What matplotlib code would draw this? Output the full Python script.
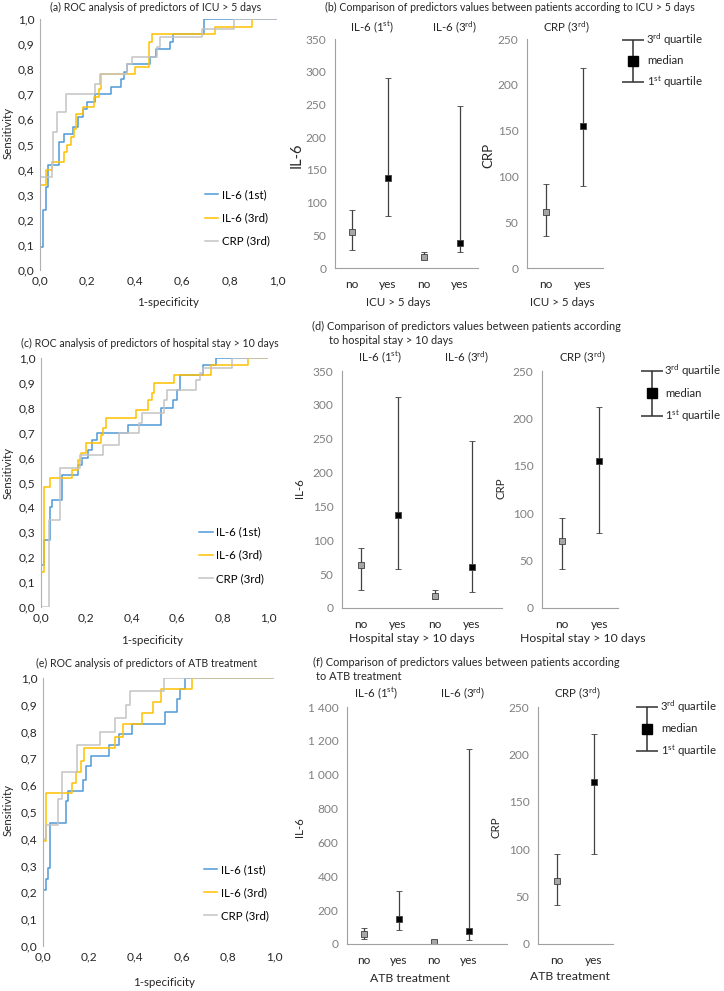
import matplotlib
matplotlib.use("Agg")
import matplotlib.pyplot as plt
from matplotlib.ticker import FuncFormatter

plt.rcParams['font.family'] = ['Lato', 'DejaVu Sans']
plt.rcParams['mathtext.fontset'] = 'custom'
plt.rcParams['mathtext.rm'] = 'Lato'
plt.rcParams['mathtext.it'] = 'Lato:italic'

W, H = 724, 991
BLUE, GOLD, GREY = '#4f9ad6', '#ffc000', '#c3c3c3'
TXT = '#262626'
TICK = '#808080'
FS = 7.6      # titles
LFS = 8.3     # axis labels, subtitles
TFS = 8.6     # tick labels

# ROC curves (fpr, tpr) per panel, step points
roc_a = {
    'IL-6 (1st)': ([0, 0.014, 0.024, 0.035, 0.08, 0.1, 0.14, 0.16, 0.18, 0.2, 0.23, 0.3, 0.34, 0.355, 0.365, 0.465, 0.49, 0.55, 0.56, 0.69, 1.0],
                   [0.09, 0.24, 0.33, 0.42, 0.51, 0.54, 0.57, 0.61, 0.64, 0.67, 0.70, 0.73, 0.76, 0.79, 0.82, 0.85, 0.88, 0.91, 0.94, 1.0, 1.0]),
    'IL-6 (3rd)': ([0, 0.024, 0.05, 0.1, 0.115, 0.13, 0.145, 0.152, 0.18, 0.228, 0.25, 0.256, 0.4, 0.458, 0.472, 0.74, 0.895],
                   [0.34, 0.40, 0.43, 0.47, 0.50, 0.53, 0.56, 0.62, 0.65, 0.69, 0.72, 0.78, 0.81, 0.91, 0.94, 0.97, 1.0]),
    'CRP (3rd)': ([0, 0, 0.05, 0.055, 0.073, 0.11, 0.233, 0.253, 0.366, 0.39, 0.493, 0.507, 0.683, 0.817, 1.0],
                  [0, 0.37, 0.42, 0.55, 0.63, 0.70, 0.74, 0.78, 0.82, 0.85, 0.89, 0.93, 0.96, 1.0, 1.0]),
}
roc_c = {
    'IL-6 (1st)': ([0, 0.012, 0.038, 0.048, 0.092, 0.163, 0.18, 0.205, 0.224, 0.246, 0.385, 0.529, 0.583, 0.598, 0.605, 0.612, 0.712, 0.773, 1.0],
                   [0.17, 0.27, 0.40, 0.43, 0.53, 0.57, 0.60, 0.63, 0.67, 0.70, 0.73, 0.80, 0.83, 0.87, 0.87, 0.93, 0.97, 1.0, 1.0]),
    'IL-6 (3rd)': ([0, 0, 0.012, 0.038, 0.136, 0.163, 0.176, 0.2, 0.264, 0.272, 0.287, 0.42, 0.473, 0.488, 0.498, 0.586, 0.75, 0.91, 1.0],
                   [0, 0.14, 0.48, 0.52, 0.55, 0.59, 0.62, 0.66, 0.69, 0.72, 0.76, 0.79, 0.83, 0.86, 0.90, 0.93, 0.97, 1.0, 1.0]),
    'CRP (3rd)': ([0, 0.034, 0.085, 0.173, 0.275, 0.344, 0.43, 0.447, 0.54, 0.553, 0.685, 0.70, 0.715, 0.84, 1.0],
                  [0, 0.35, 0.56, 0.61, 0.65, 0.70, 0.74, 0.78, 0.83, 0.87, 0.91, 0.94, 0.96, 1.0, 1.0]),
}
roc_e = {
    'IL-6 (1st)': ([0, 0.012, 0.023, 0.032, 0.1, 0.108, 0.173, 0.188, 0.207, 0.286, 0.33, 0.387, 0.527, 0.578, 0.592, 0.614, 1.0],
                   [0.21, 0.25, 0.29, 0.46, 0.54, 0.58, 0.62, 0.67, 0.71, 0.75, 0.79, 0.83, 0.875, 0.92, 0.96, 1.0, 1.0]),
    'IL-6 (3rd)': ([0, 0.012, 0.127, 0.142, 0.166, 0.176, 0.31, 0.347, 0.43, 0.477, 0.51, 0.643, 1.0],
                   [0.39, 0.57, 0.61, 0.65, 0.69, 0.74, 0.78, 0.83, 0.87, 0.91, 0.96, 1.0, 1.0]),
    'CRP (3rd)': ([0, 0, 0.012, 0.065, 0.082, 0.147, 0.246, 0.31, 0.361, 0.378, 0.523, 1.0],
                  [0, 0.40, 0.45, 0.55, 0.65, 0.75, 0.80, 0.85, 0.90, 0.95, 1.0, 1.0]),
}
roc_colors = [BLUE, GOLD, GREY]

# median, Q1, Q3 for groups: IL-6 1st no/yes, IL-6 3rd no/yes ; CRP no/yes
groups = ['no', 'yes', 'no', 'yes']
il6_b = dict(med=[55, 138, 17, 38], q1=[27, 80, 14, 25], q3=[88, 290, 25, 247])
crp_b = dict(med=[61, 155], q1=[35, 89], q3=[92, 218])
il6_d = dict(med=[64, 138, 17, 60], q1=[27, 57, 13, 24], q3=[88, 312, 26, 247])
crp_d = dict(med=[71, 155], q1=[41, 79], q3=[95, 212])
il6_f = dict(med=[61, 148, 12, 79], q1=[28, 83, 6, 24], q3=[96, 311, 25, 1154])
crp_f = dict(med=[66, 171], q1=[41.5, 94.6], q3=[94.6, 222])

fig = plt.figure(figsize=(W / 100, H / 100), dpi=100)


def px_axes(x0, y0, x1, y1):
    return fig.add_axes([x0 / W, 1 - y1 / H, (x1 - x0) / W, (y1 - y0) / H])


def ftext(x, y, s, **kw):
    kw.setdefault('fontsize', LFS)
    kw.setdefault('color', TXT)
    fig.text(x / W, 1 - y / H, s, va='center', **kw)


comma = FuncFormatter(lambda v, p: f"{v:.1f}".replace('.', ','))


def roc_panel(box, data, leg_anchor):
    ax = px_axes(*box)
    for (name, (fp, tp)), c in zip(data.items(), roc_colors):
        ax.step(fp, tp, where='post', color=c, lw=1.1, label=name)
    ax.set_xlim(0, 1)
    ax.set_ylim(0, 1)
    ax.set_xticks([i / 5 for i in range(6)])
    ax.set_yticks([i / 10 for i in range(11)])
    ax.xaxis.set_major_formatter(comma)
    ax.yaxis.set_major_formatter(comma)
    for s in ['top', 'right', 'bottom']:
        ax.spines[s].set_visible(False)
    ax.spines['left'].set_color('#b0b0b0')
    ax.tick_params(length=0, labelsize=TFS, colors=TXT, pad=4)
    ax.legend(loc='lower left', bbox_to_anchor=leg_anchor, frameon=False,
              fontsize=LFS, handlelength=1.2, handletextpad=0.3, labelspacing=1.05,
              borderpad=0)
    return ax


def err_panel(box, xlim, ylim, ticks, d, fmt=None):
    ax = px_axes(*box)
    n = len(d['med'])
    for i in range(n):
        m = d['med'][i]
        fc = '#a6a6a6' if i % 2 == 0 else 'black'
        ax.errorbar([i], [m], yerr=[[m - d['q1'][i]], [d['q3'][i] - m]],
                    fmt='s', ms=5, mfc=fc, mec='#404040', mew=0.6,
                    ecolor='#404040', elinewidth=0.9, capsize=2.5, capthick=1.2)
    ax.set_xlim(*xlim)
    ax.set_ylim(*ylim)
    ax.set_yticks(ticks)
    ax.set_xticks(range(n))
    ax.set_xticklabels(groups[:n])
    if fmt:
        ax.yaxis.set_major_formatter(fmt)
    for s in ['top', 'right']:
        ax.spines[s].set_visible(False)
    for s in ['left', 'bottom']:
        ax.spines[s].set_color('#a0a0a0')
    ax.tick_params(length=0, labelsize=TFS, pad=8)
    ax.tick_params(axis='y', colors=TICK, pad=6)
    ax.tick_params(axis='x', colors=TXT)
    return ax


def key(x, y0, y1, tx):
    ax = px_axes(x - 12, y0 - 4, x + 12, y1 + 4)
    ax.set_xlim(0, 1)
    ax.set_ylim(-4 / (y1 - y0), 1 + 4 / (y1 - y0))
    ax.axis('off')
    ax.errorbar([0.5], [0.5], yerr=[[0.5], [0.5]], fmt='s', ms=7, mfc='black',
                mec='black', ecolor='#303030', elinewidth=1.1, capsize=8, capthick=1.1)
    ftext(tx, y0, r'3$^{\mathrm{rd}}$ quartile', fontsize=8.2)
    ftext(tx + 1, (y0 + y1) / 2, 'median', fontsize=8.2)
    ftext(tx + 1, y1, r'1$^{\mathrm{st}}$ quartile', fontsize=8.2)


sup1 = r'IL-6 (1$^{\mathrm{st}}$)'
sup3 = r'IL-6 (3$^{\mathrm{rd}}$)'
crp3 = r'CRP (3$^{\mathrm{rd}}$)'
il6_fmt = FuncFormatter(lambda v, p: f"{int(v):,}".replace(',', ' '))

# ---- row 1
roc_panel((40, 19, 277, 270), roc_a, (0.67, 0.07))
ftext(156, 7, '(a) ROC analysis of predictors of ICU > 5 days', ha='center', fontsize=FS)
ftext(168, 303, '1-specificity', ha='center')
ftext(8, 133, 'Sensitivity', ha='center', rotation=90)

err_panel((335, 39, 478, 268), (-0.47, 3.5), (0, 350), range(0, 351, 50), il6_b)
err_panel((527, 39, 603, 268), (-0.5, 1.54), (0, 250), range(0, 251, 50), crp_b)
ftext(325, 7, '(b) Comparison of predictors values between patients according to ICU > 5 days', fontsize=FS)
ftext(372, 27, sup1, ha='center')
ftext(455, 27, sup3, ha='center')
ftext(566, 27, crp3, ha='center')
ftext(398, 303, 'ICU > 5 days', ha='center')
ftext(562, 303, 'ICU > 5 days', ha='center')
ftext(297, 155, 'IL-6', ha='center', rotation=90, fontsize=10.5)
ftext(488, 155, 'CRP', ha='center', rotation=90, fontsize=9.5)
key(633, 40, 82, 646)

# ---- row 2
roc_panel((41, 358, 268, 607), roc_c, (0.67, 0.07))
ftext(150, 343, '(c) ROC analysis of predictors of hospital stay > 10 days', ha='center', fontsize=FS)
ftext(152, 640, '1-specificity', ha='center')
ftext(8, 473, 'Sensitivity', ha='center', rotation=90)

err_panel((342, 371, 502, 608), (-0.51, 3.81), (0, 350), range(0, 351, 50), il6_d)
err_panel((542, 371, 618, 608), (-0.54, 1.5), (0, 250), range(0, 251, 50), crp_d)
ftext(312, 326, '(d) Comparison of predictors values between patients according', fontsize=FS + 0.3)
ftext(329, 341, 'to hospital stay > 10 days', fontsize=FS + 0.3)
ftext(380, 357, sup1, ha='center')
ftext(467, 357, sup3, ha='center')
ftext(582, 357, crp3, ha='center')
ftext(412, 639, 'Hospital stay > 10 days', ha='center', fontsize=8.8)
ftext(583, 638, 'Hospital stay > 10 days', ha='center', fontsize=8.8)
ftext(300, 488, 'IL-6', ha='center', rotation=90)
ftext(501, 488, 'CRP', ha='center', rotation=90)
key(652, 371, 416, 664)

# ---- row 3
roc_panel((43, 678, 274, 946), roc_e, (0.67, 0.07))
ftext(147, 663, '(e) ROC analysis of predictors of ATB treatment', ha='center', fontsize=FS)
ftext(164, 982, '1-specificity', ha='center')
ftext(8, 810, 'Sensitivity', ha='center', rotation=90)

err_panel((347, 707, 507, 944), (-0.49, 4.09), (0, 1400), range(0, 1401, 200), il6_f, il6_fmt)
err_panel((538, 707, 613, 944), (-0.51, 1.51), (0, 250), range(0, 251, 50), crp_f)
ftext(313, 662, '(f) Comparison of predictors values between patients according', fontsize=FS + 0.3)
ftext(316, 677, 'to ATB treatment', fontsize=FS + 0.3)
ftext(376, 693, sup1, ha='center')
ftext(463, 693, sup3, ha='center')
ftext(577, 693, crp3, ha='center')
ftext(410, 978, 'ATB treatment', ha='center', fontsize=8.8)
ftext(570, 977, 'ATB treatment', ha='center', fontsize=8.8)
ftext(300, 827, 'IL-6', ha='center', rotation=90)
ftext(496, 827, 'CRP', ha='center', rotation=90)
key(647, 707, 751, 660)

fig.savefig('out.png', dpi=100)
